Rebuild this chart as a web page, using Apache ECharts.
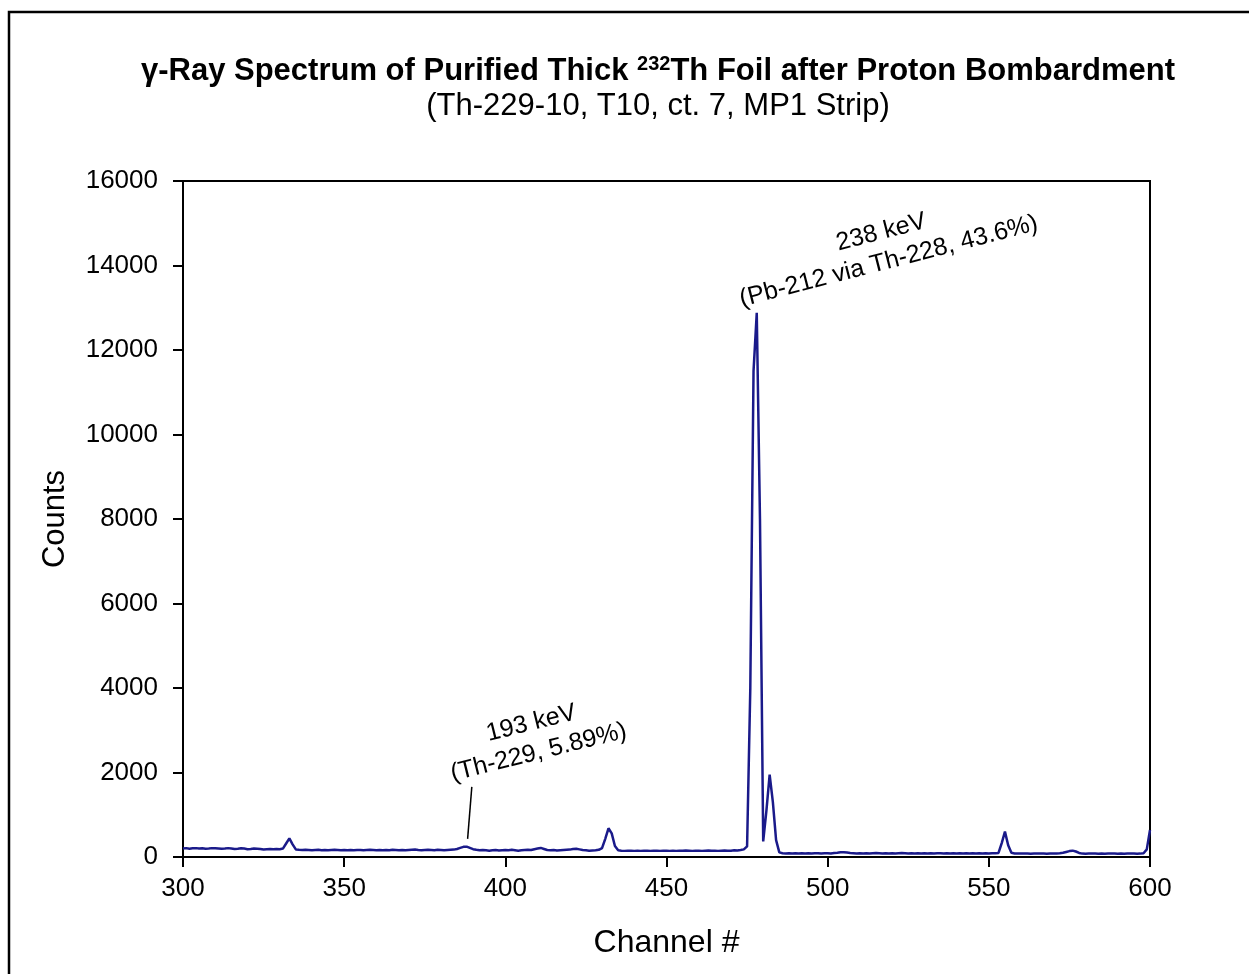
<!DOCTYPE html>
<html>
<head>
<meta charset="utf-8">
<script src="https://cdn.jsdelivr.net/npm/echarts@6/dist/echarts.min.js"></script>
<style>
  html, body { margin: 0; padding: 0; background: #fff; }
  #chart { width: 1249px; height: 974px; }
</style>
</head>
<body>
<div id="chart"></div>
<script>
// Gamma-ray spectrum, counts per channel (channels 300..600)
const channelStart = 300;
const counts300 = [200, 210, 195, 205, 210, 200, 205, 195, 200, 210];
const counts310 = [205, 200, 195, 200, 210, 200, 190, 195, 205, 200];
const counts320 = [185, 190, 200, 195, 190, 180, 185, 190, 185, 190];
const counts330 = [185, 200, 320, 440, 300, 180, 170, 165, 170, 165];
const counts340 = [160, 165, 170, 160, 165, 160, 165, 170, 165, 160];
const counts350 = [165, 160, 165, 160, 165, 165, 160, 165, 170, 165];
const counts360 = [160, 165, 160, 165, 160, 170, 165, 160, 165, 160];
const counts370 = [165, 170, 175, 165, 160, 165, 170, 165, 160, 170];
const counts380 = [165, 160, 165, 170, 175, 190, 215, 240, 245, 215];
const counts390 = [185, 170, 160, 165, 160, 150, 160, 165, 155, 160];
const counts400 = [165, 160, 170, 160, 150, 160, 165, 170, 165, 185];
const counts410 = [200, 215, 190, 165, 160, 165, 155, 160, 165, 170];
const counts420 = [175, 190, 195, 180, 165, 160, 150, 155, 160, 170];
const counts430 = [210, 430, 680, 560, 260, 160, 150, 145, 150, 150];
const counts440 = [145, 150, 145, 150, 150, 145, 150, 150, 145, 150];
const counts450 = [150, 145, 150, 145, 150, 150, 155, 150, 145, 150];
const counts460 = [150, 145, 150, 155, 150, 150, 145, 150, 155, 150];
const counts470 = [150, 160, 155, 165, 180, 250, 4000, 11500, 12880, 8000];
const counts480 = [370, 1100, 1950, 1300, 400, 110, 90, 85, 90, 85];
const counts490 = [90, 85, 90, 85, 90, 85, 90, 90, 85, 90];
const counts500 = [90, 85, 95, 100, 110, 115, 105, 95, 90, 85];
const counts510 = [90, 85, 90, 85, 90, 95, 90, 85, 90, 85];
const counts520 = [90, 85, 90, 95, 90, 85, 90, 85, 90, 85];
const counts530 = [90, 85, 90, 85, 90, 90, 85, 90, 85, 90];
const counts540 = [85, 90, 85, 90, 85, 90, 85, 90, 85, 90];
const counts550 = [85, 90, 90, 95, 330, 600, 280, 100, 85, 80];
const counts560 = [80, 85, 80, 75, 80, 85, 80, 80, 75, 85];
const counts570 = [80, 85, 90, 100, 120, 140, 150, 130, 95, 80];
const counts580 = [75, 80, 85, 80, 75, 80, 75, 80, 85, 80];
const counts590 = [75, 80, 75, 80, 85, 80, 75, 80, 90, 180];
const counts600 = [640];

const countBlocks = [counts300, counts310, counts320, counts330, counts340, counts350,
  counts360, counts370, counts380, counts390, counts400, counts410, counts420, counts430,
  counts440, counts450, counts460, counts470, counts480, counts490, counts500, counts510,
  counts520, counts530, counts540, counts550, counts560, counts570, counts580, counts590,
  counts600];

// Axis ticks
const xTicks = [300, 350, 400, 450, 500, 550, 600];
const yTicks = [0, 2000, 4000, 6000, 8000, 10000, 12000, 14000, 16000];

// Titles
const titleMain = ['γ-Ray Spectrum of Purified Thick ', '232', 'Th Foil after Proton Bombardment'];
const titleSub = '(Th-229-10, T10, ct. 7, MP1 Strip)';

// Peak annotations: [channel, counts] at the centre of each text block
const peak238Text = ['238 keV', '(Pb-212 via Th-228, 43.6%)'];
const peak238Anchor = [517.8, 14440];
const peak193Text = ['193 keV', '(Th-229, 5.89%)'];
const peak193Anchor = [409.2, 2820];
const peak193Leader = [[388.3, 430], [389.6, 1660]];

const spectrum = [];
let ch = channelStart;
countBlocks.forEach(block => block.forEach(v => { spectrum.push([ch, v]); ch += 1; }));

const FONT = '"Liberation Sans", Arial, sans-serif';
const chart = echarts.init(document.getElementById('chart'), null, { renderer: 'canvas' });

chart.setOption({
  backgroundColor: '#ffffff',
  animation: false,
  grid: {
    left: 183, right: 99, top: 181, bottom: 117,
    show: true, borderColor: '#000', borderWidth: 2, backgroundColor: 'transparent'
  },
  xAxis: {
    type: 'value', min: 300, max: 600, interval: 50,
    name: 'Channel #', nameLocation: 'middle', nameGap: 70,
    nameTextStyle: { fontFamily: FONT, fontSize: 32, color: '#000' },
    axisLine: { show: true, onZero: false, lineStyle: { color: '#000', width: 2 } },
    axisTick: { show: true, inside: false, length: 10, lineStyle: { color: '#000', width: 2 } },
    axisLabel: { fontFamily: FONT, fontSize: 26, color: '#000', margin: 19,
      formatter: v => (xTicks.includes(v) ? String(v) : '') },
    splitLine: { show: false }
  },
  yAxis: {
    type: 'value', min: 0, max: 16000, interval: 2000,
    name: 'Counts', nameLocation: 'middle', nameGap: 112, nameRotate: 90,
    nameTextStyle: { fontFamily: FONT, fontSize: 31, color: '#000' },
    axisLine: { show: true, lineStyle: { color: '#000', width: 2 } },
    axisTick: { show: true, inside: false, length: 10, lineStyle: { color: '#000', width: 2 } },
    axisLabel: { fontFamily: FONT, fontSize: 26, color: '#000', margin: 25,
      formatter: v => (yTicks.includes(v) ? String(v) : '') },
    splitLine: { show: false }
  },
  series: [{
    type: 'line',
    data: spectrum,
    showSymbol: false,
    symbol: 'none',
    lineStyle: { color: '#1a1a8a', width: 2.5 },
    clip: true,
    markLine: {
      silent: true,
      symbol: 'none',
      label: { show: false },
      lineStyle: { color: '#000', width: 1.5, type: 'solid' },
      data: [[{ coord: peak193Leader[0] }, { coord: peak193Leader[1] }]]
    }
  }]
});

// Rotated peak annotations placed in data coordinates
function annotation(lines, anchor, angleDeg) {
  const p = chart.convertToPixel({ gridIndex: 0 }, anchor);
  return {
    type: 'text',
    x: p[0], y: p[1],
    rotation: angleDeg * Math.PI / 180,
    style: {
      text: lines.join('\n'),
      fontFamily: FONT, fontSize: 25, fill: '#000',
      align: 'center', verticalAlign: 'middle', lineHeight: 30
    }
  };
}

chart.setOption({
  graphic: [
    // outer frame of the figure
    { type: 'rect', shape: { x: 9, y: 12, width: 1400, height: 1200 },
      style: { fill: 'none', stroke: '#000', lineWidth: 2.5 } },
    {
      type: 'text', x: 658, y: 71,
      style: {
        text: '{a|' + titleMain[0] + '}{s|' + titleMain[1] + '}{a|' + titleMain[2] + '}',
        align: 'center', verticalAlign: 'middle',
        rich: {
          a: { fontFamily: FONT, fontSize: 31, fontWeight: 'bold', fill: '#000', lineHeight: 36 },
          s: { fontFamily: FONT, fontSize: 20, fontWeight: 'bold', fill: '#000', lineHeight: 36, padding: [0, 0, 14, 0] }
        }
      }
    },
    {
      type: 'text', x: 658, y: 106,
      style: {
        text: titleSub, fontFamily: FONT, fontSize: 31, fill: '#000',
        align: 'center', verticalAlign: 'middle'
      }
    },
    annotation(peak238Text, peak238Anchor, 14.5),
    annotation(peak193Text, peak193Anchor, 14)
  ]
});
</script>
</body>
</html>
